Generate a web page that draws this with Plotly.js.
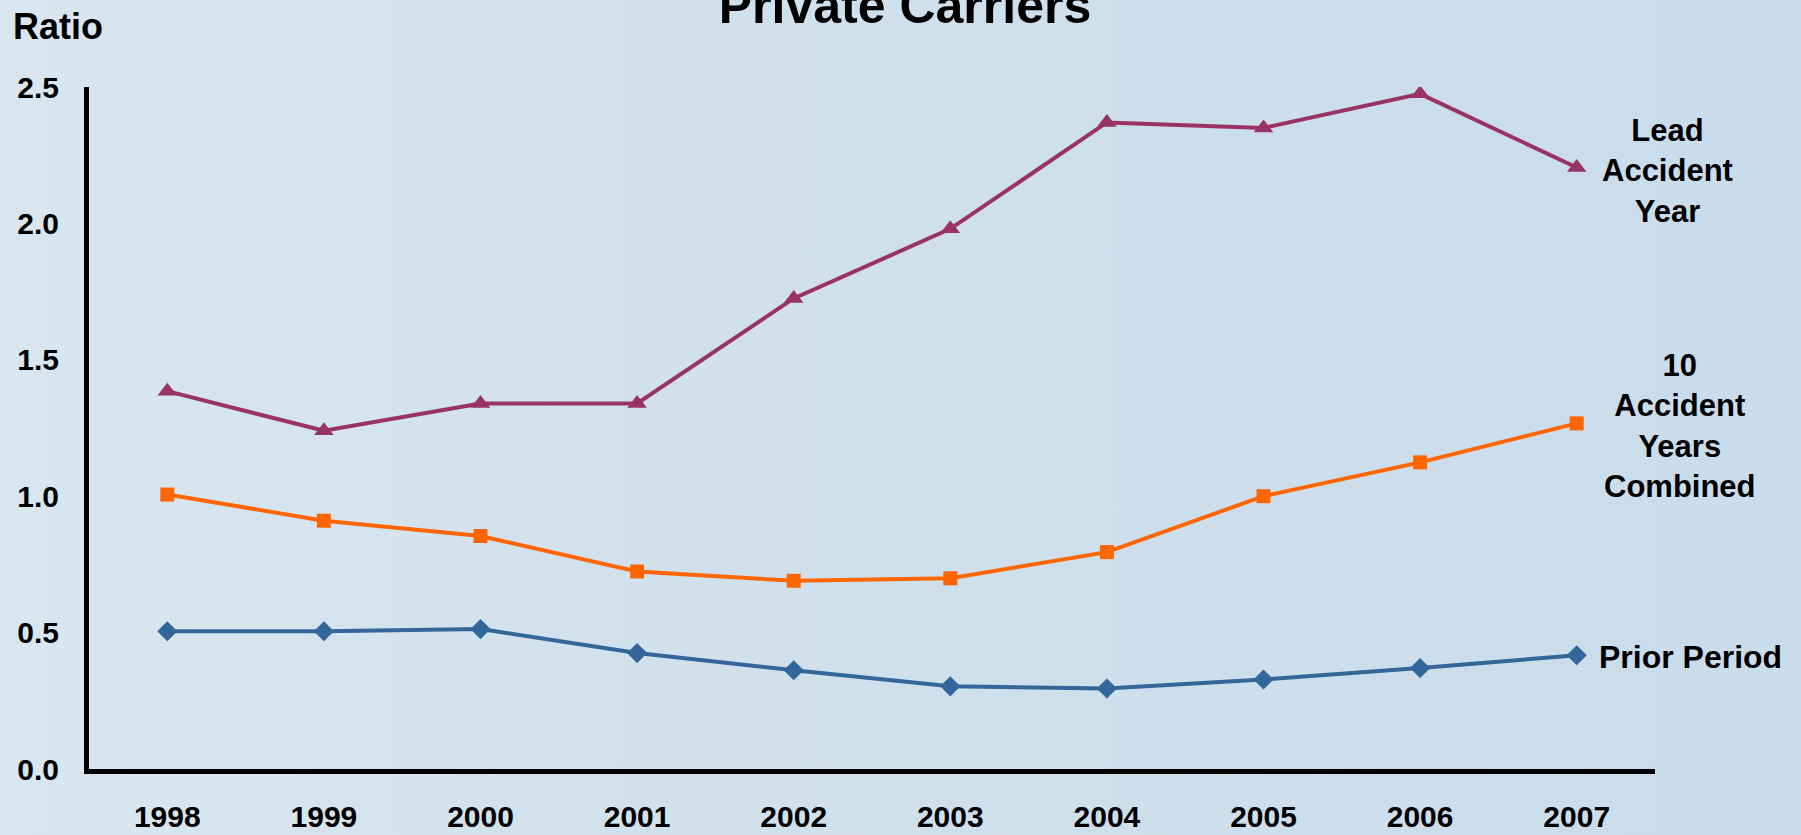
<!DOCTYPE html>
<html>
<head>
<meta charset="utf-8">
<script src="https://cdn.plot.ly/plotly-3.0.1.min.js"></script>
<style>
  html, body { margin: 0; padding: 0; }
  body { width: 1801px; height: 835px; background: linear-gradient(to right, #d9e6ef 0%, #d0e1ec 40%, #c9dceb 100%); }
  #chart { width: 1801px; height: 835px; }
</style>
</head>
<body>
<div id="chart"></div>
<script>
const years = ['1998','1999','2000','2001','2002','2003','2004','2005','2006','2007'];
const leadAccidentYear = [1.385, 1.24, 1.34, 1.34, 1.725, 1.98, 2.37, 2.35, 2.475, 2.205];
const tenAccidentYears = [1.006, 0.91, 0.854, 0.724, 0.69, 0.699, 0.795, 1.00, 1.124, 1.267];
const priorPeriod = [0.505, 0.505, 0.513, 0.425, 0.362, 0.303, 0.295, 0.328, 0.37, 0.417];
const yTicks = [0, 0.5, 1.0, 1.5, 2.0, 2.5];
const yTickLabels = ['0.0', '0.5', '1.0', '1.5', '2.0', '2.5'];

const FONT = 'Liberation Sans, Arial, sans-serif';

const traces = [
  { x: years, y: leadAccidentYear, type: 'scatter', mode: 'lines+markers', name: 'Lead Accident Year',
    line: { color: '#993366', width: 4 }, marker: { symbol: 'triangle-up', size: 17, color: '#993366' } },
  { x: years, y: tenAccidentYears, type: 'scatter', mode: 'lines+markers', name: '10 Accident Years Combined',
    line: { color: '#ff6600', width: 4 }, marker: { symbol: 'square', size: 14, color: '#ff6600' } },
  { x: years, y: priorPeriod, type: 'scatter', mode: 'lines+markers', name: 'Prior Period',
    line: { color: '#336699', width: 4 }, marker: { symbol: 'diamond', size: 15.5, color: '#336699' } }
];

const L = 89, R = 146, T = 87, B = 66;
const PW = 1801 - L - R, PH = 835 - T - B;

const layout = {
  width: 1801, height: 835,
  paper_bgcolor: 'rgba(0,0,0,0)', plot_bgcolor: 'rgba(0,0,0,0)',
  margin: { l: L, r: R, t: T, b: B },
  showlegend: false,
  font: { family: FONT, color: '#000', size: 30 },
  title: { text: '<b>Private Carriers</b>', font: { family: FONT, size: 50, color: '#000' },
           x: 905/1801, xanchor: 'center', xref: 'container', yref: 'container', y: 1 - 5/835, yanchor: 'middle' },
  xaxis: {
    type: 'category', range: [-0.5, 9.5],
    showgrid: false, zeroline: false, showline: true, linecolor: '#000', linewidth: 5,
    ticks: '', ticklabelstandoff: 17,
    tickfont: { family: FONT, size: 30, color: '#000', weight: 'bold' }
  },
  yaxis: {
    range: [0, 2.5], tickvals: yTicks, ticktext: yTickLabels,
    showgrid: false, zeroline: false, showline: true, linecolor: '#000', linewidth: 5,
    ticks: '', ticklabelstandoff: 19,
    tickfont: { family: FONT, size: 30, color: '#000', weight: 'bold' }
  },
  annotations: [
    { text: '<b>Ratio</b>', xref: 'paper', yref: 'paper', x: (11-L)/PW, y: 1 + (T-26)/PH,
      xanchor: 'left', yanchor: 'middle', showarrow: false, font: { family: FONT, size: 36, color: '#000' } },
    { text: '<b>Lead<br>Accident<br>Year</b>', xref: 'paper', yref: 'paper', x: (1668-L)/PW, y: (835-B-171)/PH,
      xanchor: 'center', yanchor: 'middle', align: 'center', showarrow: false, font: { family: FONT, size: 31, color: '#000' } },
    { text: '<b>10<br>Accident<br>Years<br>Combined</b>', xref: 'paper', yref: 'paper', x: (1680-L)/PW, y: (835-B-426)/PH,
      xanchor: 'center', yanchor: 'middle', align: 'center', showarrow: false, font: { family: FONT, size: 31, color: '#000' } },
    { text: '<b>Prior Period</b>', xref: 'paper', yref: 'paper', x: (1597-L)/PW, y: (835-B-657)/PH,
      xanchor: 'left', yanchor: 'middle', showarrow: false, font: { family: FONT, size: 32, color: '#000' } }
  ]
};

Plotly.newPlot('chart', traces, layout, { displayModeBar: false, responsive: false });
</script>
</body>
</html>
